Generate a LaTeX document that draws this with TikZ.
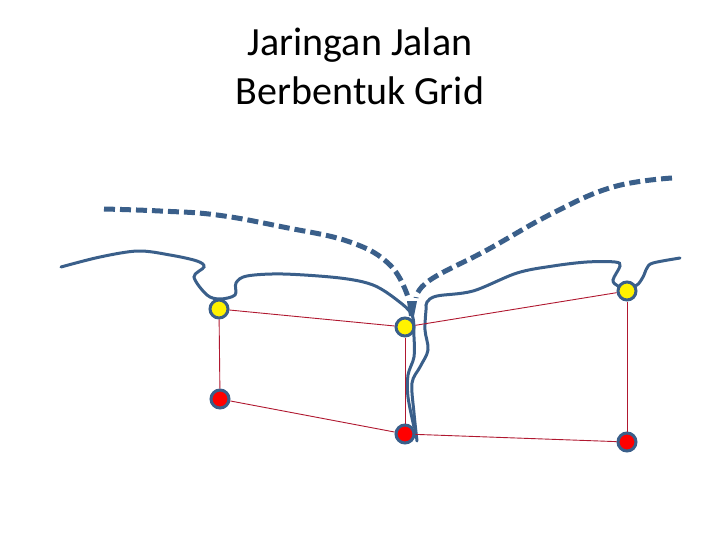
\documentclass[tikz,border=0pt]{standalone}
\usepackage{fontspec}
\setmainfont{Carlito}
\usepackage{xcolor}
\usetikzlibrary{positioning, calc}
\definecolor{jalanblue}{HTML}{3A5F8A}
\definecolor{linkred}{HTML}{B01830}
\tikzset{
  simpul/.style={circle, draw=jalanblue, line width=3pt, minimum size=18pt, inner sep=0pt},
  simpulkuning/.style={simpul, fill=yellow},
  simpulmerah/.style={simpul, fill=red},
  ruas/.style={linkred, line width=0.9pt},
  jalan/.style={jalanblue, line width=3pt, line cap=round},
  rencana/.style={jalanblue, line width=5pt, dash pattern=on 11pt off 5pt}
}

\begin{document}
\begin{tikzpicture}[x=1pt, y=-1pt]
    \useasboundingbox (0,0) rectangle (720,540);
    % Judul
    \node[font=\fontsize{40}{49}\selectfont, align=center] (judul) at (360,66) {Jaringan Jalan\\Berbentuk Grid};
    % Simpul bawah jalan
    \node[simpulkuning] (y2) at (405,327) {};
    \node[simpulmerah] (r1) at (220,399) {};
    \node[simpulmerah] (r2) at (405,434) {};
    \node[simpulmerah] (r3) at (627,442) {};
    % Jalan kiri
    \draw[jalan] plot[smooth, tension=0.55] coordinates {(61,267) (100,257) (138,251) (170,255) (197,261) (204,267)
      (194,277) (207,295) (220,299) (235,295) (236,283) (247,276) (283,274) (340,278) (373,285) (397,300) (412,315)
      (414,337) (414,357) (408,375) (408,397) (414,427)};
    % Jalan kanan
    \draw[jalan] plot[smooth, tension=0.55] coordinates {(680,258) (653,263) (647,268) (643,277) (637,285) (627,287) (618,286)
      (613,280) (620,266) (615,262) (587,262) (553,266) (517,273) (473,291) (437,296) (427,302) (426,310) (425,330)
      (428,350) (420,367) (412,383) (414,413) (417,441)};
    % Jalan rencana
    \draw[rencana] plot[smooth, tension=0.7] coordinates {(104,209) (160,211) (217,215) (283,227) (350,242) (390,265) (408,297)};
    \draw[rencana] plot[smooth, tension=0.7] coordinates {(672,178) (613,187) (553,213) (487,250) (430,280) (416,298)};
    \fill[jalanblue] (407,301) -- (417,301) -- (414,316) -- (409,316) -- cycle;
    % Simpul atas jalan
    \node[simpulkuning] (y1) at (219,309) {};
    \node[simpulkuning] (y3) at (627,291) {};
    % Ruas grid
    \draw[ruas] (y1) -- (y2);
    \draw[ruas] (y2) -- (y3);
    \draw[ruas] (y1) -- (r1);
    \draw[ruas] (y2) -- (r2);
    \draw[ruas] (y3) -- (r3);
    \draw[ruas] (r1) -- (r2);
    \draw[ruas] (r2) -- (r3);
\end{tikzpicture}
\end{document}
